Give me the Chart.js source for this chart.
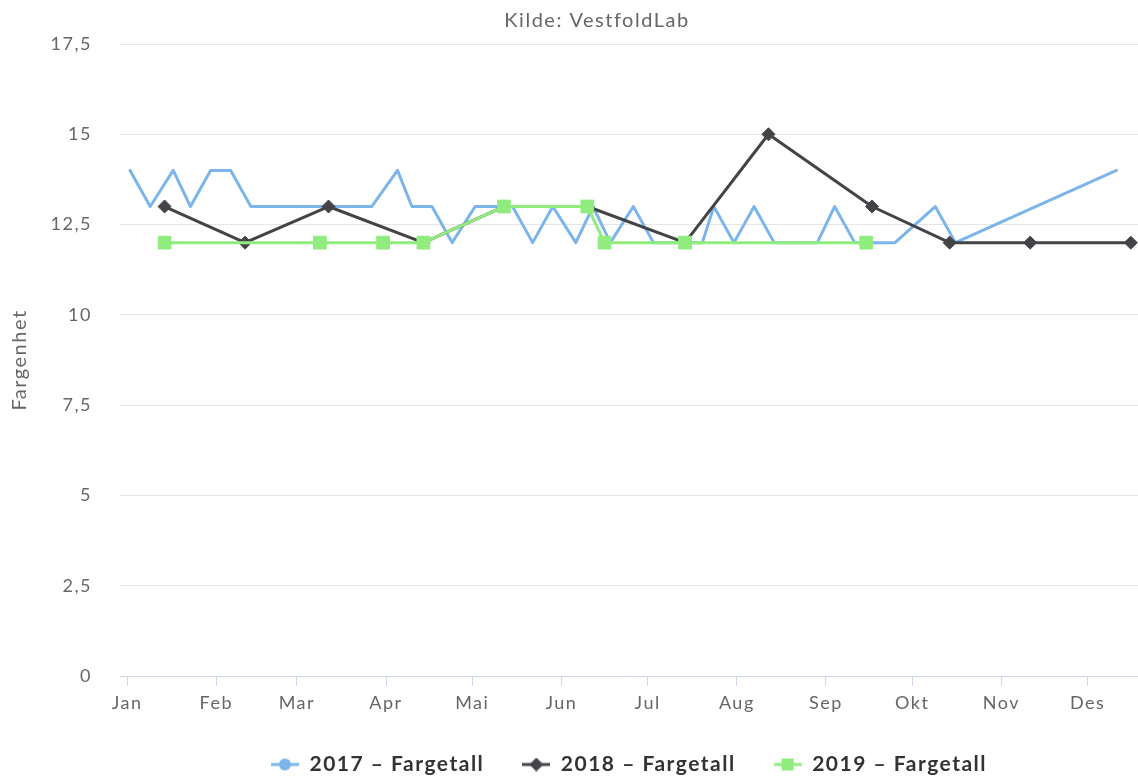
<!DOCTYPE html>
<html>
<head>
<meta charset="utf-8">
<title>Fargetall</title>
<script src="https://cdn.jsdelivr.net/npm/chart.js@4.4.1/dist/chart.umd.min.js"></script>
<style>
    html, body { margin: 0; padding: 0; background: #ffffff; overflow: hidden; }
    #wrap { position: relative; width: 1138px; height: 776px; }
</style>
</head>
<body>
<div id="wrap"><canvas id="fargetall-chart"></canvas></div>
<script>
const titleText = 'Kilde: VestfoldLab'
const yTitle = 'Fargenhet'
const monthNames = ['Jan', 'Feb', 'Mar', 'Apr', 'Mai', 'Jun', 'Jul', 'Aug', 'Sep', 'Okt', 'Nov', 'Des']
const yTicks = [0, 2.5, 5, 7.5, 10, 12.5, 15, 17.5]

const seriesNames = ['2017 – Fargetall', '2018 – Fargetall', '2019 – Fargetall']

const dates2017 = ['01-02', '01-09', '01-17', '01-23', '01-30', '02-06', '02-13', '02-20', '02-27', '03-06',
    '03-13', '03-20', '03-27', '04-05', '04-10', '04-17', '04-24', '05-02', '05-09', '05-15',
    '05-22', '05-29', '06-06', '06-12', '06-18', '06-26', '07-03', '07-10', '07-20', '07-24',
    '07-31', '08-07', '08-14', '08-21', '08-29', '09-04', '09-11', '09-18', '09-25', '10-09',
    '10-16', '12-11']
const values2017 = [14, 13, 14, 13, 14, 14, 13, 13, 13, 13,
    13, 13, 13, 14, 13, 13, 12, 13, 13, 13,
    12, 13, 12, 13, 12, 13, 12, 12, 12, 13,
    12, 13, 12, 12, 12, 13, 12, 12, 12, 13,
    12, 14]

const dates2018 = ['01-14', '02-11', '03-12', '04-14', '05-12', '06-10', '07-14', '08-12', '09-17', '10-14', '11-11', '12-16']
const values2018 = [13, 12, 13, 12, 13, 13, 12, 15, 13, 12, 12, 12]

const dates2019 = ['01-14', '03-09', '03-31', '04-14', '05-12', '06-10', '06-16', '07-14', '09-15']
const values2019 = [12, 12, 12, 12, 13, 13, 12, 12, 12]

const fontFamily = 'Lato, "Noto Sans", sans-serif'
Chart.defaults.font.family = fontFamily

// day number within the year, so every year shares one Jan..Des axis
const dayOfYear = function (md) {
    const [m, d] = md.split('-').map(Number)
    return (Date.UTC(2017, m - 1, d) - Date.UTC(2017, 0, 1)) / 86400000
}
const monthStarts = monthNames.map((name, i) => dayOfYear(String(i + 1).padStart(2, '0') + '-01'))

const toPoints = (dates, values) => dates.map((d, i) => ({x: dayOfYear(d), y: values[i]}))

const legendSymbol = function (color, shape) {
    const c = document.createElement('canvas')
    c.width = 28
    c.height = 14
    const g = c.getContext('2d')
    g.strokeStyle = color
    g.lineWidth = 3
    g.beginPath()
    g.moveTo(0, 7)
    g.lineTo(28, 7)
    g.stroke()
    g.fillStyle = color
    g.beginPath()
    if (shape === 'circle') {
        g.arc(14, 7, 6, 0, Math.PI * 2)
    } else if (shape === 'diamond') {
        g.moveTo(14, 0)
        g.lineTo(21, 7)
        g.lineTo(14, 14)
        g.lineTo(7, 7)
        g.closePath()
    } else {
        g.rect(8, 1, 12, 12)
    }
    g.fill()
    return c
}

const colors = ['#7cb5ec', '#434348', '#90ed7d']
const symbols = [legendSymbol(colors[0], 'circle'), legendSymbol(colors[1], 'diamond'), legendSymbol(colors[2], 'square')]

// the source font is loosely tracked
const tracking = {
    id: 'tracking',
    beforeUpdate(chart) {
        chart.ctx.letterSpacing = '1.5px'
    },
    beforeDraw(chart) {
        chart.ctx.letterSpacing = '1.5px'
    }
}

const sourceTitle = {
    id: 'sourceTitle',
    afterDraw(chart) {
        const ctx = chart.ctx
        ctx.save()
        ctx.font = '20px ' + fontFamily
        ctx.fillStyle = '#666666'
        ctx.textAlign = 'center'
        ctx.textBaseline = 'middle'
        ctx.fillText(titleText, 597, 21)
        ctx.restore()
    }
}

const ctx = document.getElementById('fargetall-chart').getContext('2d')
const fargeChart = new Chart(ctx, {
    type: 'line',
    data: {
        datasets: [{
            label: seriesNames[0],
            data: toPoints(dates2017, values2017),
            borderColor: colors[0],
            backgroundColor: colors[0],
            borderWidth: 3,
            pointRadius: 0,
            order: 3
        }, {
            label: seriesNames[1],
            data: toPoints(dates2018, values2018),
            borderColor: colors[1],
            backgroundColor: colors[1],
            borderWidth: 3,
            pointStyle: 'rectRot',
            pointRadius: 6.5,
            pointBorderWidth: 1,
            order: 2
        }, {
            label: seriesNames[2],
            data: toPoints(dates2019, values2019),
            borderColor: colors[2],
            backgroundColor: colors[2],
            borderWidth: 3,
            pointStyle: 'rect',
            pointRadius: 9,
            pointBorderWidth: 1,
            order: 1
        }]
    },
    options: {
        animation: false,
        responsive: true,
        maintainAspectRatio: false,
        layout: {
            autoPadding: false,
            padding: {top: 44, left: 0, right: 0, bottom: 0}
        },
        elements: {
            line: {
                tension: 0,
                borderJoinStyle: 'round',
                borderCapStyle: 'round'
            }
        },
        datasets: {
            line: {clip: false}
        },
        plugins: {
            tooltip: {enabled: false},
            title: {display: false},
            legend: {
                position: 'bottom',
                fullSize: false,
                maxHeight: 60,
                labels: {
                    usePointStyle: true,
                    pointStyleWidth: 28,
                    padding: 38,
                    color: '#333333',
                    font: {size: 21, weight: 'bold'},
                    generateLabels: chart => chart.data.datasets.map((ds, i) => ({
                        text: ds.label,
                        datasetIndex: i,
                        pointStyle: symbols[i],
                        fillStyle: ds.borderColor,
                        strokeStyle: ds.borderColor,
                        lineWidth: 0,
                        fontColor: '#333333',
                        hidden: false
                    }))
                }
            }
        },
        scales: {
            x: {
                type: 'linear',
                min: -2.5,
                max: 351.5,
                afterBuildTicks: scale => {
                    scale.ticks = monthStarts.map(v => ({value: v}))
                },
                afterFit: scale => {
                    scale.height = 40
                    scale.paddingLeft = 0
                    scale.paddingRight = 0
                },
                ticks: {
                    autoSkip: false,
                    maxRotation: 0,
                    padding: 6,
                    color: '#666666',
                    font: {size: 18},
                    callback: (value, index) => monthNames[index]
                },
                grid: {
                    drawOnChartArea: false,
                    color: '#ccd6eb',
                    tickLength: 10
                },
                border: {color: '#ccd6eb', width: 1}
            },
            y: {
                min: 0,
                max: 17.5,
                afterBuildTicks: scale => {
                    scale.ticks = yTicks.map(v => ({value: v}))
                },
                afterFit: scale => {
                    scale.width = 120
                },
                ticks: {
                    padding: 28,
                    color: '#666666',
                    font: {size: 18},
                    callback: value => String(value).replace('.', ',')
                },
                grid: {
                    color: '#e6e6e6',
                    drawTicks: false
                },
                border: {display: false},
                title: {
                    display: true,
                    text: yTitle,
                    color: '#666666',
                    font: {size: 20},
                    padding: {top: 8, bottom: 0}
                }
            }
        }
    },
    plugins: [tracking, sourceTitle]
})
</script>
</body>
</html>
